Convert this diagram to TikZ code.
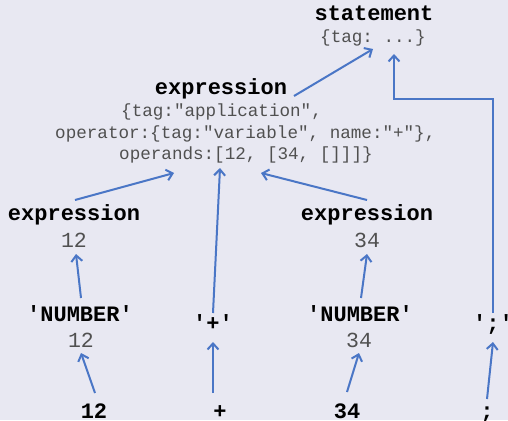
\documentclass[tikz,border=0pt]{standalone}
\usepackage{fontspec}
\setmonofont{Liberation Mono}
\usetikzlibrary{arrows.meta}
\definecolor{bgc}{HTML}{E8E8F2}
\definecolor{arr}{HTML}{4A76C6}
\definecolor{dtext}{HTML}{505050}
\tikzset{
  ttl/.style={font=\ttfamily\bfseries\fontsize{22}{22}\selectfont, inner sep=0pt, anchor=base, text=black},
  dtl/.style={font=\ttfamily\fontsize{17.6}{21}\selectfont, inner sep=0pt, anchor=base, text=dtext},
  num/.style={dtl, font=\ttfamily\fontsize{21.5}{22}\selectfont},
  dtlw/.style={dtl, anchor=base west},
  link/.style={draw=arr, line width=2pt, -{Straight Barb[length=6pt,width=11pt]}},
}
\begin{document}
\begin{tikzpicture}[x=1pt,y=-1pt]
\fill[bgc] (0,0) rectangle (508,420);
\useasboundingbox (0,0) rectangle (508,420);
% nodes
\node[ttl] (st) at (374,21) {statement};
\node[dtl] (std) at (373,42) {\{tag: ...\}};
\node[ttl] (ex) at (221,94) {expression};
\node[dtlw] (ex1) at (121,116) {\{tag:"application",};
\node[dtlw] (ex2) at (55,138) {operator:\{tag:"variable", name:"+"\},};
\node[dtlw] (ex3) at (119,159) {operands:[12, [34, []]]\}};
\node[ttl] (le) at (74,220) {expression};
\node[num] (le1) at (74,247) {12};
\node[ttl] (re) at (367,220) {expression};
\node[num] (re1) at (367,247) {34};
\node[ttl] (n1) at (80,321) {'NUMBER'};
\node[num] (n1d) at (81,347) {12};
\node[ttl] (pl) at (213,330) {'+'};
\node[ttl] (n2) at (360,321) {'NUMBER'};
\node[num] (n2d) at (359,347) {34};
\node[ttl] (sm) at (493,330) {';'};
\node[ttl] (t1) at (94,418) {12};
\node[ttl] (t2) at (220,418) {+};
\node[ttl] (t3) at (347,418) {34};
\node[ttl] (t4) at (487,418) {;};
% connector end points
\coordinate (c1a) at (294,96);  \coordinate (c1b) at (373,49);
\coordinate (c2a) at (493,313); \coordinate (c2m) at (493,99); \coordinate (c2n) at (394,99); \coordinate (c2b) at (394,54);
\coordinate (c3a) at (75,200);  \coordinate (c3b) at (174,173);
\coordinate (c4a) at (213,313); \coordinate (c4b) at (220,168);
\coordinate (c5a) at (367,200); \coordinate (c5b) at (261,173);
\coordinate (c6a) at (81,298);  \coordinate (c6b) at (76,254);
\coordinate (c7a) at (361,298); \coordinate (c7b) at (367,254);
\coordinate (c8a) at (95,393);  \coordinate (c8b) at (81,353);
\coordinate (c9a) at (213,393); \coordinate (c9b) at (213,342);
\coordinate (c10a) at (347,392); \coordinate (c10b) at (359,353);
\coordinate (c11a) at (487,399); \coordinate (c11b) at (493,342);
% connectors
\draw[link] (c1a) -- (c1b);
\draw[link] (c2a) -- (c2m) -- (c2n) -- (c2b);
\draw[link] (c3a) -- (c3b);
\draw[link] (c4a) -- (c4b);
\draw[link] (c5a) -- (c5b);
\draw[link] (c6a) -- (c6b);
\draw[link] (c7a) -- (c7b);
\draw[link] (c8a) -- (c8b);
\draw[link] (c9a) -- (c9b);
\draw[link] (c10a) -- (c10b);
\draw[link] (c11a) -- (c11b);
\end{tikzpicture}
\end{document}
